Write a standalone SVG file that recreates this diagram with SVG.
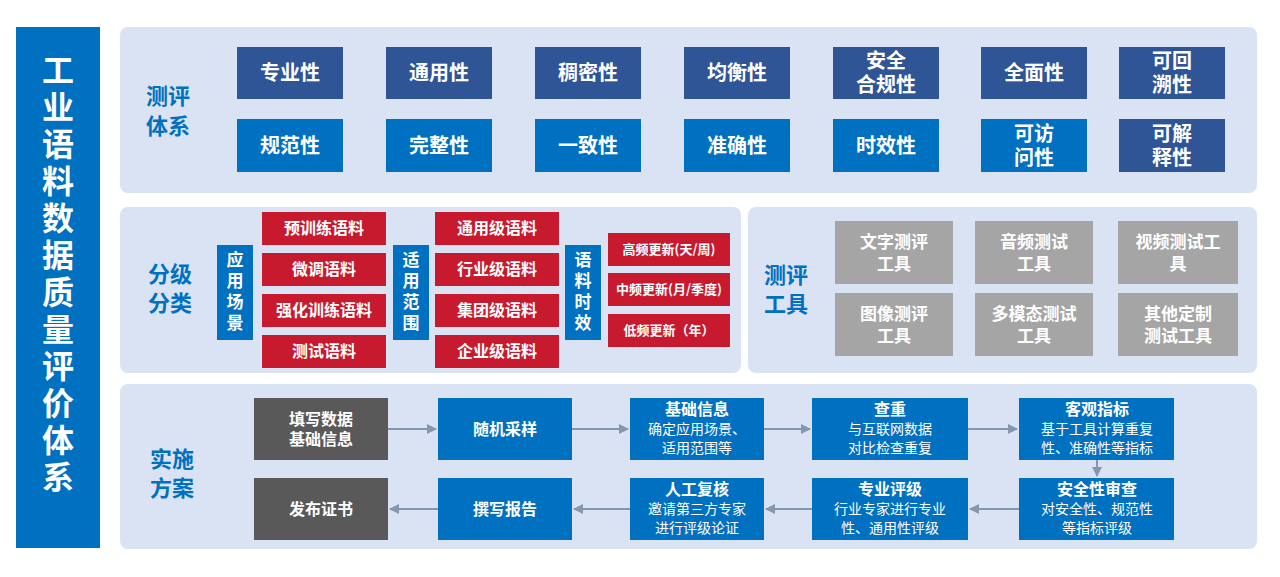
<svg xmlns="http://www.w3.org/2000/svg" width="1280" height="577" viewBox="0 0 1280 577">
<defs>
<style>
text{font-family:"Noto Sans CJK SC","Liberation Sans",sans-serif;fill:#fff;text-anchor:middle;font-weight:bold}
.pan{fill:#dae3f3}
.lab{fill:#0070c0;font-size:22px}
.nv{fill:#2f5597}.bl{fill:#0070c0}.rd{fill:#c81a2e}.gy{fill:#a5a5a5}.dk{fill:#595959}
.t20{font-size:20px}.t16{font-size:16px}.t17{font-size:17px}.t13{font-size:13px}
.d{font-size:14px;font-weight:normal}
.ar{stroke:#8497b0;stroke-width:2;fill:none;marker-end:url(#ah)}
</style>
<marker id="ah" viewBox="0 0 10 10" refX="9" refY="5" markerWidth="5" markerHeight="5" orient="auto"><path d="M0,0L10,5L0,10z" fill="#8497b0"/></marker>
</defs>
<rect width="1280" height="577" fill="#fff"/>
<g id="title"><rect x="16" y="27" width="84" height="521" fill="#0070c0"/>
<text x="58" font-size="32"><tspan x="58" y="82">工</tspan><tspan x="58" y="119">业</tspan><tspan x="58" y="156">语</tspan><tspan x="58" y="193">料</tspan><tspan x="58" y="230">数</tspan><tspan x="58" y="267">据</tspan><tspan x="58" y="304">质</tspan><tspan x="58" y="341">量</tspan><tspan x="58" y="378">评</tspan><tspan x="58" y="415">价</tspan><tspan x="58" y="452">体</tspan><tspan x="58" y="489">系</tspan></text></g>
<rect class="pan" x="120" y="27" width="1137" height="166" rx="8"/>
<rect class="pan" x="120" y="207" width="621" height="166" rx="8"/>
<rect class="pan" x="748" y="207" width="509" height="166" rx="8"/>
<rect class="pan" x="120" y="384" width="1137" height="165" rx="8"/>
<g id="sys"><text class="lab"><tspan x="168" y="104">测评</tspan><tspan x="168" y="134">体系</tspan></text>
<rect class="nv" x="237" y="47" width="106" height="52"/><text class="t20" x="290" y="80">专业性</text>
<rect class="nv" x="386" y="47" width="106" height="52"/><text class="t20" x="439" y="80">通用性</text>
<rect class="nv" x="535" y="47" width="106" height="52"/><text class="t20" x="588" y="80">稠密性</text>
<rect class="nv" x="684" y="47" width="106" height="52"/><text class="t20" x="737" y="80">均衡性</text>
<rect class="nv" x="833" y="47" width="106" height="52"/><text class="t20"><tspan x="886" y="68">安全</tspan><tspan x="886" y="92">合规性</tspan></text>
<rect class="nv" x="981" y="47" width="106" height="52"/><text class="t20" x="1034" y="80">全面性</text>
<rect class="nv" x="1119" y="47" width="106" height="52"/><text class="t20"><tspan x="1172" y="68">可回</tspan><tspan x="1172" y="92">溯性</tspan></text>
<rect class="bl" x="237" y="119" width="106" height="53"/><text class="t20" x="290" y="153">规范性</text>
<rect class="bl" x="386" y="119" width="106" height="53"/><text class="t20" x="439" y="153">完整性</text>
<rect class="bl" x="535" y="119" width="106" height="53"/><text class="t20" x="588" y="153">一致性</text>
<rect class="bl" x="684" y="119" width="106" height="53"/><text class="t20" x="737" y="153">准确性</text>
<rect class="bl" x="833" y="119" width="106" height="53"/><text class="t20" x="886" y="153">时效性</text>
<rect class="bl" x="981" y="119" width="106" height="53"/><text class="t20"><tspan x="1034" y="141">可访</tspan><tspan x="1034" y="165">问性</tspan></text>
<rect class="nv" x="1119" y="119" width="106" height="53"/><text class="t20"><tspan x="1172" y="141">可解</tspan><tspan x="1172" y="165">释性</tspan></text></g>
<g id="cls"><text class="lab"><tspan x="170" y="282">分级</tspan><tspan x="170" y="311">分类</tspan></text>
<rect class="bl" x="217" y="245" width="36" height="95"/><text class="t17"><tspan x="235" y="266">应</tspan><tspan x="235" y="287">用</tspan><tspan x="235" y="308">场</tspan><tspan x="235" y="329">景</tspan></text>
<rect class="rd" x="262" y="212" width="124" height="33"/><text class="t16" x="324" y="234">预训练语料</text>
<rect class="rd" x="262" y="253" width="124" height="33"/><text class="t16" x="324" y="275">微调语料</text>
<rect class="rd" x="262" y="294" width="124" height="33"/><text class="t16" x="324" y="316">强化训练语料</text>
<rect class="rd" x="262" y="335" width="124" height="33"/><text class="t16" x="324" y="357">测试语料</text>
<rect class="bl" x="393" y="245" width="36" height="95"/><text class="t17"><tspan x="411" y="266">适</tspan><tspan x="411" y="287">用</tspan><tspan x="411" y="308">范</tspan><tspan x="411" y="329">围</tspan></text>
<rect class="rd" x="435" y="212" width="124" height="33"/><text class="t16" x="497" y="234">通用级语料</text>
<rect class="rd" x="435" y="253" width="124" height="33"/><text class="t16" x="497" y="275">行业级语料</text>
<rect class="rd" x="435" y="294" width="124" height="33"/><text class="t16" x="497" y="316">集团级语料</text>
<rect class="rd" x="435" y="335" width="124" height="33"/><text class="t16" x="497" y="357">企业级语料</text>
<rect class="bl" x="565" y="245" width="36" height="95"/><text class="t17"><tspan x="583" y="266">语</tspan><tspan x="583" y="287">料</tspan><tspan x="583" y="308">时</tspan><tspan x="583" y="329">效</tspan></text>
<rect class="rd" x="608" y="233" width="122" height="33"/><text class="t13" x="669" y="254">高频更新(天/周)</text>
<rect class="rd" x="608" y="273" width="122" height="33"/><text class="t13" x="669" y="294">中频更新(月/季度)</text>
<rect class="rd" x="608" y="314" width="122" height="33"/><text class="t13" x="669" y="335">低频更新（年）</text></g>
<g id="tools"><text class="lab"><tspan x="786" y="283">测评</tspan><tspan x="786" y="312">工具</tspan></text>
<rect class="gy" x="835" y="221" width="118" height="63"/><text class="t17"><tspan x="894" y="248">文字测评</tspan><tspan x="894" y="270">工具</tspan></text>
<rect class="gy" x="975" y="221" width="118" height="63"/><text class="t17"><tspan x="1034" y="248">音频测试</tspan><tspan x="1034" y="270">工具</tspan></text>
<rect class="gy" x="1118" y="221" width="120" height="63"/><text class="t17"><tspan x="1178" y="248">视频测试工</tspan><tspan x="1178" y="270">具</tspan></text>
<rect class="gy" x="835" y="293" width="118" height="63"/><text class="t17"><tspan x="894" y="320">图像测评</tspan><tspan x="894" y="342">工具</tspan></text>
<rect class="gy" x="975" y="293" width="118" height="63"/><text class="t17"><tspan x="1034" y="320">多模态测试</tspan><tspan x="1034" y="342">工具</tspan></text>
<rect class="gy" x="1118" y="293" width="120" height="63"/><text class="t17"><tspan x="1178" y="320">其他定制</tspan><tspan x="1178" y="342">测试工具</tspan></text></g>
<g id="connectors">
<path class="ar" d="M388,429H436"/><path class="ar" d="M572,429H628"/><path class="ar" d="M764,429H810"/><path class="ar" d="M968,429H1017"/>
<path class="ar" d="M1097,460V476"/>
<path class="ar" d="M1019,509H970"/><path class="ar" d="M812,509H766"/><path class="ar" d="M630,509H574"/><path class="ar" d="M438,509H390"/></g>
<g id="plan"><text class="lab"><tspan x="172" y="467">实施</tspan><tspan x="172" y="496">方案</tspan></text>
<rect class="dk" x="254" y="398" width="134" height="62"/><text class="t16"><tspan x="321" y="425">填写数据</tspan><tspan x="321" y="445">基础信息</tspan></text>
<rect class="bl" x="438" y="398" width="134" height="62"/><text class="t16" x="505" y="435">随机采样</text>
<rect class="bl" x="630" y="398" width="134" height="62"/><text class="t16" x="697" y="415">基础信息</text><text class="d"><tspan x="697" y="434">确定应用场景、</tspan><tspan x="697" y="453">适用范围等</tspan></text>
<rect class="bl" x="812" y="398" width="156" height="62"/><text class="t16" x="890" y="415">查重</text><text class="d"><tspan x="890" y="434">与互联网数据</tspan><tspan x="890" y="453">对比检查重复</tspan></text>
<rect class="bl" x="1019" y="398" width="155" height="62"/><text class="t16" x="1097" y="415">客观指标</text><text class="d"><tspan x="1097" y="434">基于工具计算重复</tspan><tspan x="1097" y="453">性、准确性等指标</tspan></text>
<rect class="dk" x="254" y="478" width="134" height="62"/><text class="t16" x="321" y="515">发布证书</text>
<rect class="bl" x="438" y="478" width="134" height="62"/><text class="t16" x="505" y="515">撰写报告</text>
<rect class="bl" x="630" y="478" width="134" height="62"/><text class="t16" x="697" y="495">人工复核</text><text class="d"><tspan x="697" y="514">邀请第三方专家</tspan><tspan x="697" y="533">进行评级论证</tspan></text>
<rect class="bl" x="812" y="478" width="156" height="62"/><text class="t16" x="890" y="495">专业评级</text><text class="d"><tspan x="890" y="514">行业专家进行专业</tspan><tspan x="890" y="533">性、通用性评级</tspan></text>
<rect class="bl" x="1019" y="478" width="155" height="62"/><text class="t16" x="1097" y="495">安全性审查</text><text class="d"><tspan x="1097" y="514">对安全性、规范性</tspan><tspan x="1097" y="533">等指标评级</tspan></text></g>
</svg>
